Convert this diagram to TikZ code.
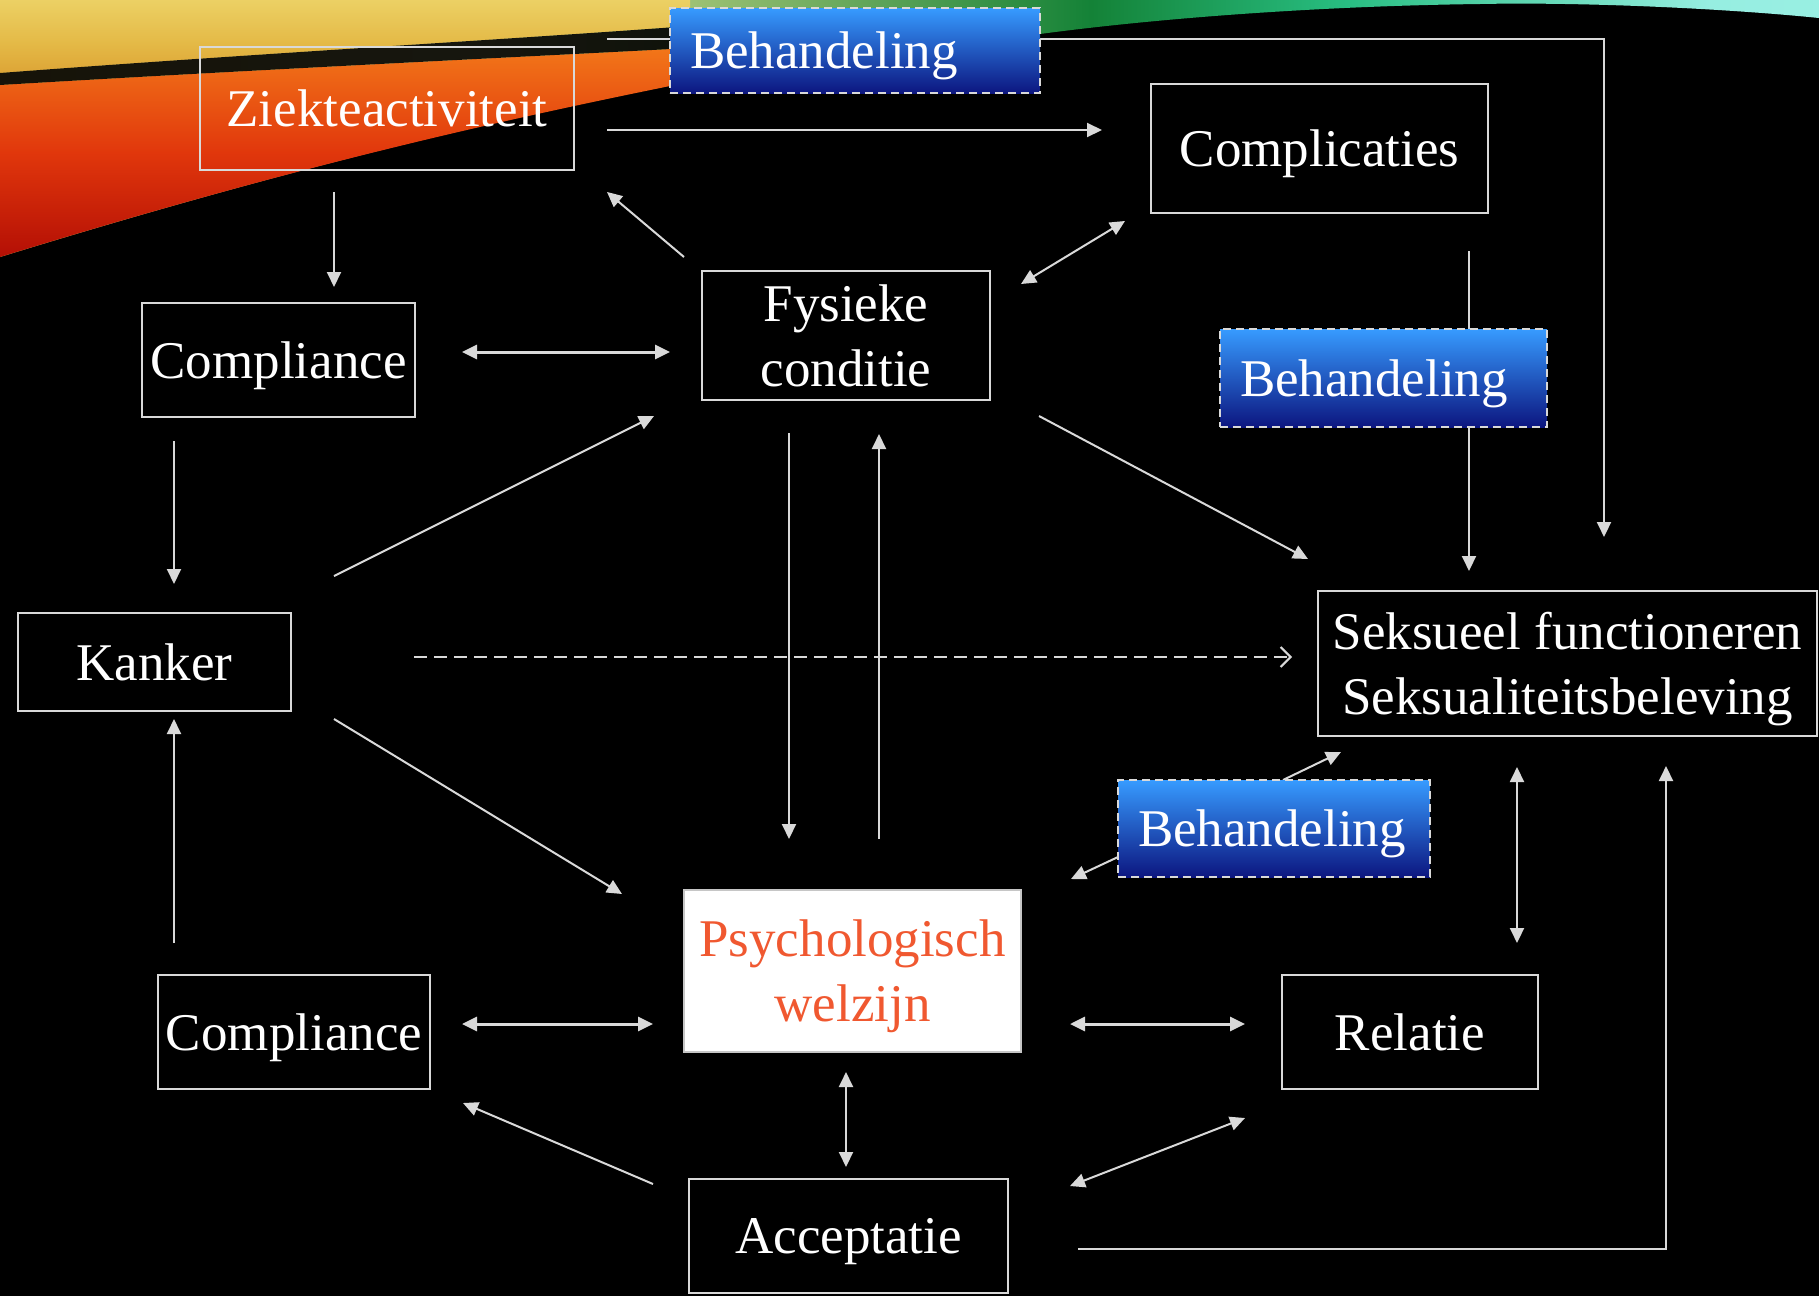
\documentclass[tikz,border=0pt]{standalone}
\usepackage{fontspec}
\setmainfont{Liberation Serif}
\usetikzlibrary{arrows.meta,calc}

\definecolor{linegray}{RGB}{217,217,217}
\definecolor{psychred}{RGB}{240,88,48}
\definecolor{behtop}{RGB}{55,155,255}
\definecolor{behmid}{RGB}{42,122,228}
\definecolor{behbot}{RGB}{12,22,128}
% colours of the decorative swoosh
\definecolor{swA}{RGB}{232,150,40}
\definecolor{swB}{RGB}{228,190,70}
\definecolor{swC}{RGB}{232,228,150}
\definecolor{swD}{RGB}{20,130,55}
\definecolor{swE}{RGB}{40,190,130}
\definecolor{swF}{RGB}{150,238,225}
\definecolor{swG}{RGB}{175,245,240}
\definecolor{rdA}{RGB}{90,2,0}
\definecolor{rdB}{RGB}{180,15,5}
\definecolor{rdC}{RGB}{225,55,12}
\definecolor{rdD}{RGB}{242,118,25}
\definecolor{rdE}{RGB}{236,170,55}
\definecolor{ylA}{RGB}{212,140,35}
\definecolor{ylB}{RGB}{228,185,70}
\definecolor{ylC}{RGB}{242,228,125}

\pgfdeclarehorizontalshading{swoosh}{100bp}{color(0bp)=(swA); color(20bp)=(swB); color(38bp)=(swC); color(55bp)=(swD); color(62bp)=(swE); color(72bp)=(swF); color(100bp)=(swG)}
\pgfdeclareverticalshading{redswoosh}{100bp}{color(0bp)=(rdA); color(25bp)=(rdB); color(50bp)=(rdC); color(75bp)=(rdD); color(100bp)=(rdE)}
\pgfdeclareverticalshading{yellowswoosh}{100bp}{color(0bp)=(ylA); color(45bp)=(ylB); color(100bp)=(ylC)}

\pgfdeclarelayer{bg}
\pgfdeclarelayer{edges}
\pgfsetlayers{bg,edges,main}

\newcommand{\mainfs}{\fontsize{26.5pt}{32.5pt}\selectfont}

\begin{document}
\begin{tikzpicture}[x=0.5pt,y=-0.5pt,
  box/.style={draw=linegray, line width=1.4pt, text=white, inner sep=1pt, text depth=0pt, align=center, font=\mainfs},
  behbox/.style={draw=linegray, line width=1pt, dash pattern=on 4pt off 2.5pt,
    top color=behtop, middle color=behmid, bottom color=behbot,
    text=white, inner xsep=10pt, inner ysep=1pt, text depth=0pt, align=left, font=\mainfs},
  psybox/.style={draw=gray!45, line width=1pt, fill=white, text=psychred, inner sep=1pt, text depth=0pt, align=center, font=\mainfs},
  arr/.style={draw=linegray, line width=1pt, -{Triangle[length=7.5pt,width=7pt]}},
  darr/.style={draw=linegray, line width=1pt, {Triangle[length=7.5pt,width=7pt]}-{Triangle[length=7.5pt,width=7pt]}},
  thick darr/.style={darr, line width=1.5pt},
  dasharr/.style={draw=linegray, line width=1pt, dash pattern=on 6.5pt off 3.5pt, -{Straight Barb[length=5pt,width=10pt]}}
]
\useasboundingbox (0,0) rectangle (1819,1296);

% background and swoosh
\begin{pgfonlayer}{bg}
  \fill[black] (0,0) rectangle (1819,1296);
  \shade[shading=swoosh] (0,0) -- (1819,0) -- (1819,18)
    .. controls (1720,8) and (1580,2) .. (1480,4)
    .. controls (1320,6) and (1160,18) .. (1040,34)
    .. controls (900,50) and (750,70) .. (670,84)
    .. controls (450,130) and (250,180) .. (0,257) -- cycle;
  % upper yellow band
  \shade[shading=yellowswoosh] (0,0) -- (690,0) -- (690,26)
    .. controls (500,40) and (250,54) .. (0,73) -- cycle;
  % lower red band
  \shade[shading=redswoosh] (0,85) .. controls (250,70) and (500,58) .. (690,48)
    -- (690,82) .. controls (450,130) and (250,180) .. (0,257) -- cycle;
  % dark stripe between the bands
  \fill[black,opacity=0.9] (0,73) .. controls (250,54) and (500,40) .. (690,26)
    -- (690,48) .. controls (500,58) and (250,70) .. (0,85) -- cycle;
\end{pgfonlayer}

% boxes
\node[box, minimum width=187pt, minimum height=61.5pt] (ziekte) at (387,108.5) {Ziekteactiviteit};
\node[behbox, minimum width=185pt, minimum height=42.5pt, text width=165pt] (beh1) at (855,50.5) {Behandeling};
\node[box, minimum width=168.5pt, minimum height=64.5pt] (compl) at (1319.5,148.5) {Complicaties};
\node[box, minimum width=144pt, minimum height=64.5pt] (fys) at (846,335.5) {Fysieke\\conditie};
\node[box, minimum width=136.5pt, minimum height=57pt] (compTop) at (278.5,360) {Compliance};
\node[behbox, minimum width=163.5pt, minimum height=49pt, text width=143.5pt] (beh2) at (1383.5,378) {Behandeling};
\node[box, minimum width=136.5pt, minimum height=49pt] (kanker) at (154.5,662) {Kanker};
\node[box, minimum width=249.5pt, minimum height=72.5pt] (seks) at (1567.5,663.5) {Seksueel functioneren\\Seksualiteitsbeleving};
\node[behbox, minimum width=156pt, minimum height=48.5pt, text width=136pt] (beh3) at (1274,828.5) {Behandeling};
\node[psybox, minimum width=168.5pt, minimum height=81pt] (psych) at (852.5,971) {Psychologisch\\welzijn};
\node[box, minimum width=136pt, minimum height=57pt] (compBot) at (294,1032) {Compliance};
\node[box, minimum width=128pt, minimum height=57pt] (relatie) at (1410,1032) {Relatie};
\node[box, minimum width=159.5pt, minimum height=57pt] (accept) at (848.5,1236) {Acceptatie};

% connectors
\begin{pgfonlayer}{edges}
  \draw[arr] ($(ziekte)+(220,-69.5)$) -| ($(seks)+(36.5,-126.5)$);
  \draw[arr] ($(ziekte)+(220,21.5)$) -- ($(compl)+(-217.5,-18.5)$);
  \draw[arr] ($(fys)+(-162,-78.5)$) -- ($(ziekte)+(220,83.5)$);
  \draw[darr] ($(compl)+(-194.5,72.5)$) -- ($(fys)+(175,-51.5)$);
  \draw[arr] ($(ziekte)+(-53,83.5)$) -- ($(compTop)+(55.5,-73)$);
  \draw[thick darr] ($(compTop)+(183.5,-8)$) -- ($(fys)+(-176,16.5)$);
  \draw[arr] ($(compl)+(149.5,102.5)$) -- ($(seks)+(-98.5,-92.5)$);
  \draw[arr] ($(compTop)+(-104.5,81)$) -- ($(kanker)+(19.5,-78)$);
  \draw[arr] ($(kanker)+(179.5,-86)$) -- ($(fys)+(-192,80.5)$);
  \draw[arr] ($(fys)+(193,80.5)$) -- ($(seks)+(-259.5,-104.5)$);
  \draw[arr] ($(fys)+(-57,97.5)$) -- ($(psych)+(-63.5,-132)$);
  \draw[arr] ($(psych)+(26.5,-132)$) -- ($(fys)+(33,98.5)$);
  \draw[dasharr] ($(kanker)+(259.5,-5)$) -- ($(seks)+(-275.5,-6.5)$);
  \draw[arr] ($(kanker)+(179.5,57)$) -- ($(psych)+(-230.5,-77)$);
  \draw[arr] ($(compBot)+(-120,-89)$) -- ($(kanker)+(19.5,57)$);
  \draw[arr] ($(beh3)+(9,-48.5)$) -- ($(seks)+(-226.5,88.5)$);
  \draw[arr] ($(beh3)+(-156,28.5)$) -- ($(psych)+(218.5,-92)$);
  \draw[darr] ($(seks)+(-50.5,103.5)$) -- ($(relatie)+(107,-89)$);
  \draw[thick darr] ($(compBot)+(168,-8)$) -- ($(psych)+(-199.5,53)$);
  \draw[thick darr] ($(psych)+(217.5,53)$) -- ($(relatie)+(-165,-8)$);
  \draw[darr] ($(psych)+(-6.5,101)$) -- ($(accept)+(-2.5,-69)$);
  \draw[arr] ($(accept)+(-195.5,-52)$) -- ($(compBot)+(169,71)$);
  \draw[darr] ($(accept)+(221.5,-50)$) -- ($(relatie)+(-165,86)$);
  \draw[arr] ($(accept)+(229.5,13)$) -| ($(seks)+(98.5,102.5)$);
\end{pgfonlayer}
\end{tikzpicture}
\end{document}
